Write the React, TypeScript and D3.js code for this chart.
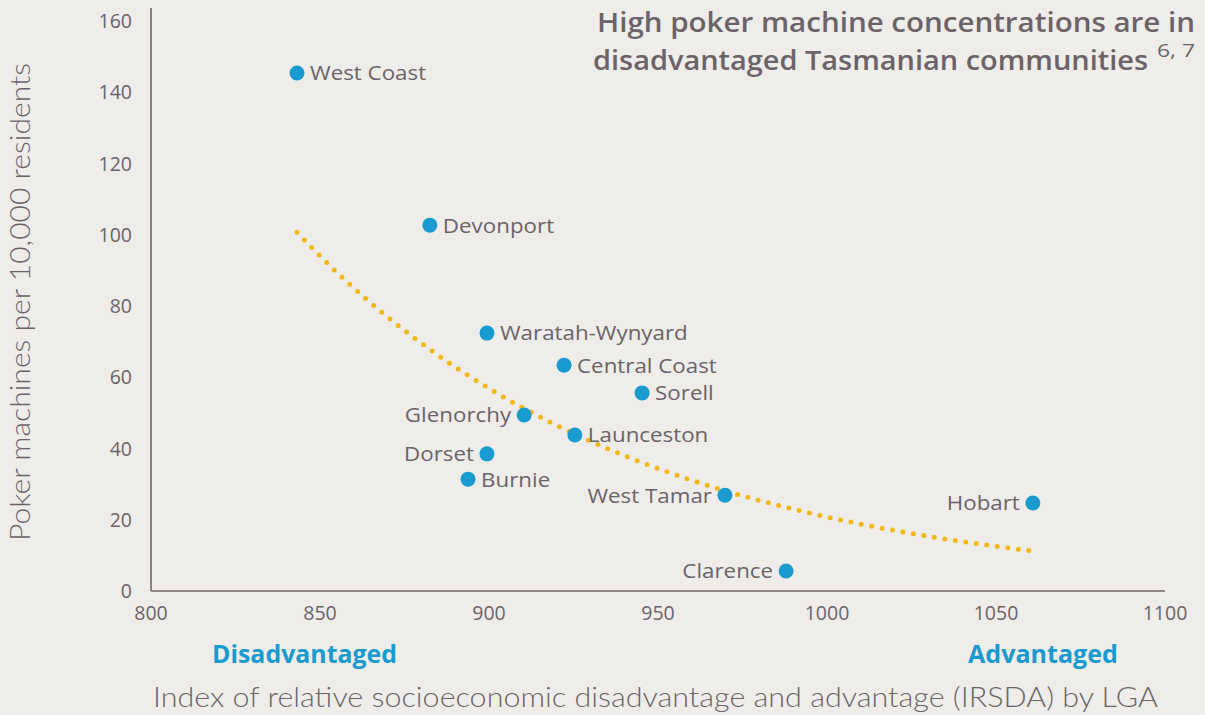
import React from "react";
import * as d3 from "d3";

const lgaNames = ["West Coast", "Devonport", "Waratah-Wynyard", "Central Coast", "Sorell", "Glenorchy", "Launceston", "Dorset", "Burnie", "West Tamar", "Clarence", "Hobart"];
const irsdaValues = [843.2, 882.5, 899.4, 922.2, 945.3, 910.4, 925.4, 899.4, 893.8, 969.8, 987.9, 1060.9];
const machinesPer10k = [145.4, 102.7, 72.4, 63.4, 55.6, 49.4, 43.8, 38.5, 31.4, 26.9, 5.6, 24.7];
const labelSide = ["right", "right", "right", "right", "right", "left", "right", "left", "right", "left", "left", "left"];
const xTicks = [800, 850, 900, 950, 1000, 1050, 1100];
const yTicks = [0, 20, 40, 60, 80, 100, 120, 140, 160];

const W = 1205, H = 715;
const BG = "#eeedea";
const TXT = "#6b6368";
const AXIS = "#6e666b";
const BLUE = "#1a9bd0";
const GOLD = "#f2b817";
const SANS = "'Open Sans', 'Noto Sans', sans-serif";
const LIGHT = "Lato, 'Open Sans', sans-serif";

export default function App() {
  const x = d3.scaleLinear().domain([800, 1100]).range([151, 1165]);
  const y = d3.scaleLinear().domain([0, 160]).range([591, 21]);

  // exponential trendline (least squares on ln y)
  const lx = irsdaValues;
  const ly = machinesPer10k.map((v) => Math.log(v));
  const mx = d3.mean(lx)!;
  const my = d3.mean(ly)!;
  const b = d3.sum(lx.map((v, i) => (v - mx) * (ly[i] - my))) / d3.sum(lx.map((v) => (v - mx) ** 2));
  const a = my - b * mx;
  const [x0, x1] = d3.extent(lx) as [number, number];
  const trendPts = d3.range(0, 101).map((i) => {
    const xv = x0 + ((x1 - x0) * i) / 100;
    return [xv, Math.exp(a + b * xv)] as [number, number];
  });
  const line = d3.line<[number, number]>().x((d) => x(d[0])).y((d) => y(d[1])).curve(d3.curveMonotoneX);

  return (
    <svg width={W} height={H} style={{ display: "block", position: "absolute", left: 0, top: 0, background: BG }} fontFamily={SANS}>
      <rect x={0} y={0} width={W} height={H} fill={BG} />
      {/* axes */}
      <line x1={151} x2={151} y1={8} y2={591} stroke={AXIS} strokeWidth={1.6} />
      <line x1={151} x2={x(1100)} y1={591} y2={591} stroke={AXIS} strokeWidth={1.6} />
      {yTicks.map((t) => (
        <text key={"y" + t} x={132} y={y(t)} dy="0.36em" textAnchor="end" fontSize={19.5} fill={TXT}>{t}</text>
      ))}
      {xTicks.map((t) => (
        <text key={"x" + t} x={x(t)} y={620} textAnchor="middle" fontSize={19.5} fill={TXT}>{t}</text>
      ))}
      {/* trendline */}
      <path d={line(trendPts) || ""} fill="none" stroke={GOLD} strokeWidth={5} strokeLinecap="round" strokeDasharray="0 10.6" />
      {/* points */}
      {lgaNames.map((n, i) => {
        const cx = x(irsdaValues[i]);
        const cy = y(machinesPer10k[i]);
        const right = labelSide[i] === "right";
        return (
          <g key={n}>
            <circle cx={cx} cy={cy} r={7.5} fill={BLUE} />
            <g transform={`translate(${cx + (right ? 13 : -13)},${cy}) scale(1.09,1)`}>
              <text x={0} y={0} dy="0.36em" textAnchor={right ? "start" : "end"} fontSize={20.5} fill={TXT}>{n}</text>
            </g>
          </g>
        );
      })}
      {/* title */}
      <text x={597} y={32} fontSize={27} fontWeight={600} fill={TXT} textLength={598} lengthAdjust="spacingAndGlyphs">High poker machine concentrations are in</text>
      <text x={593} y={70} fontSize={27} fontWeight={600} fill={TXT} textLength={555} lengthAdjust="spacingAndGlyphs">disadvantaged Tasmanian communities</text>
      <text x={1157} y={57} fontSize={18} fill={TXT} textLength={38} lengthAdjust="spacingAndGlyphs">6, 7</text>
      {/* axis titles */}
      <text transform={`translate(30,302) rotate(-90)`} textAnchor="middle" fontFamily={LIGHT} fontSize={27} fontWeight={300} fill={TXT} textLength={478} lengthAdjust="spacingAndGlyphs">Poker machines per 10,000 residents</text>
      <text x={153} y={707} fontFamily={LIGHT} fontSize={28} fontWeight={300} fill={TXT} textLength={1005} lengthAdjust="spacingAndGlyphs">Index of relative socioeconomic disadvantage and advantage (IRSDA) by LGA</text>
      <text x={212} y={663} fontSize={25} fontWeight={700} fill={BLUE} textLength={185} lengthAdjust="spacingAndGlyphs">Disadvantaged</text>
      <text x={968} y={663} fontSize={25} fontWeight={700} fill={BLUE} textLength={150} lengthAdjust="spacingAndGlyphs">Advantaged</text>
    </svg>
  );
}
